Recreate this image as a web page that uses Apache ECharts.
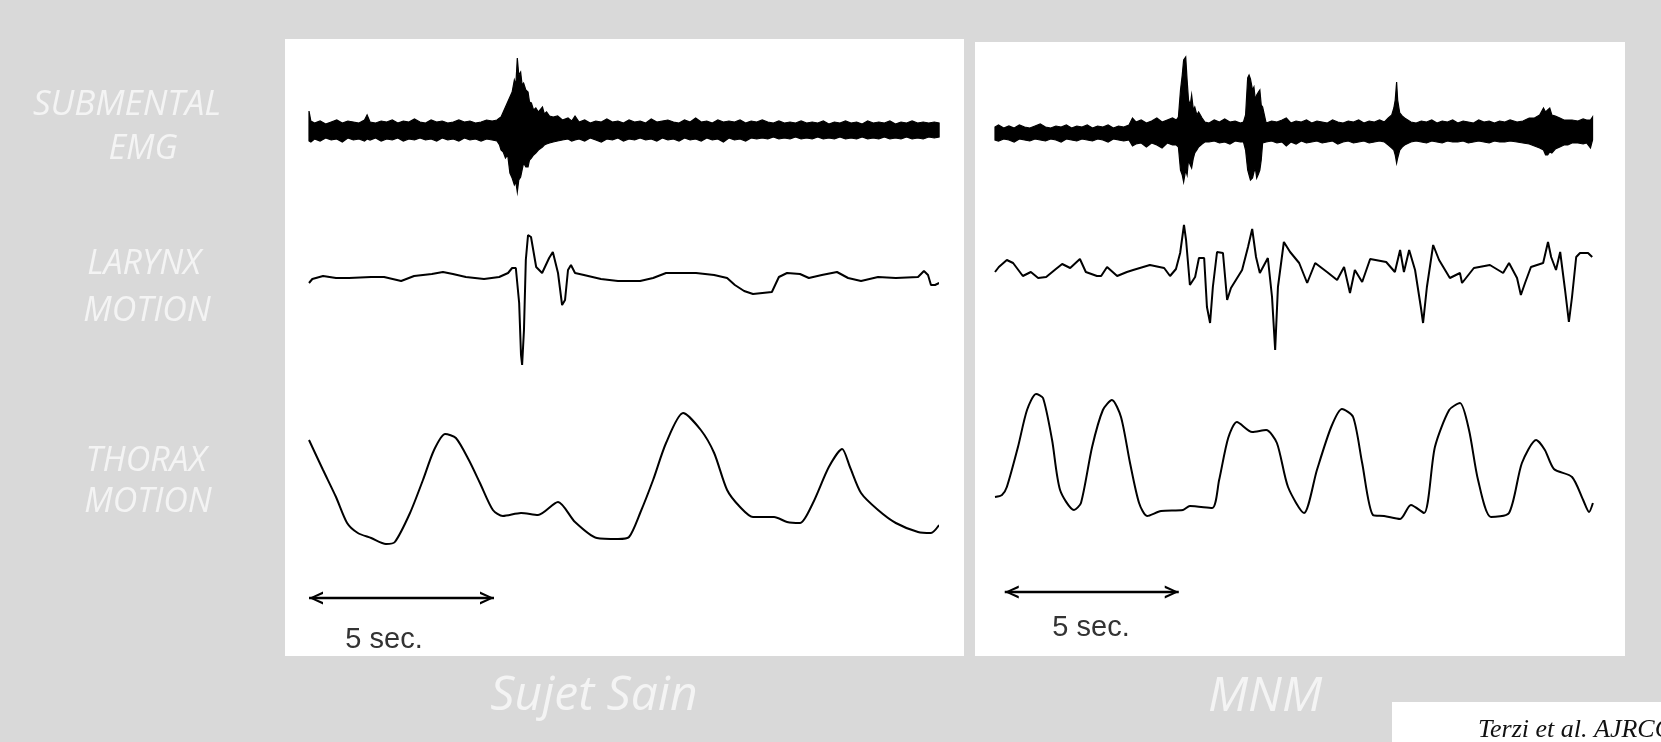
<!DOCTYPE html>
<html>
<head>
<meta charset="utf-8">
<script src="https://cdn.jsdelivr.net/npm/echarts@6/dist/echarts.min.js"></script>
<style>
  html, body { margin: 0; padding: 0; background: #d9d9d9; }
  #chart { width: 1661px; height: 742px; }
</style>
</head>
<body>
<div id="chart"></div>
<script>
// Polygraphic recordings: time in seconds, amplitude in arbitrary units (positive = up).

// Submental EMG, healthy subject: [time, upper envelope, lower envelope]
const emgSain = [
  [0.00,19,-11],[0.05,9,-12],[0.15,7,-9],[0.30,9,-11],[0.45,6,-8],[0.60,8,-10],[0.75,10,-9],[0.90,7,-12],
  [1.05,9,-8],[1.20,8,-10],[1.35,7,-9],[1.50,10,-11],[1.57,15,-9],[1.65,8,-10],[1.80,7,-8],[1.95,9,-11],
  [2.10,8,-9],[2.25,10,-10],[2.40,7,-8],[2.55,9,-11],[2.70,8,-9],[2.85,11,-10],[3.00,8,-8],[3.15,7,-10],
  [3.30,10,-9],[3.45,8,-11],[3.60,9,-8],[3.75,7,-10],[3.90,8,-9],[4.05,10,-11],[4.20,8,-8],[4.35,9,-10],
  [4.50,7,-9],[4.65,8,-11],[4.80,10,-9],[4.95,9,-10],
  [5.08,10,-11],[5.15,12,-15],[5.19,13,-20],[5.25,18,-22],[5.31,23,-28],[5.37,28,-25],[5.43,33,-43],
  [5.49,38,-48],[5.55,50,-55],[5.59,45,-52],[5.63,72,-62],[5.67,55,-50],[5.72,58,-47],[5.76,45,-40],
  [5.80,47,-33],[5.86,40,-37],[5.92,38,-37],[5.96,28,-30],[6.01,27,-28],[6.07,20,-25],[6.13,22,-23],
  [6.20,18,-20],[6.31,23,-17],[6.36,16,-15],[6.42,18,-14],[6.50,14,-13],[6.60,13,-12],[6.72,14,-11],
  [6.85,10,-10],[7.00,12,-9],[7.10,9,-11],[7.19,14,-10],
  [7.30,8,-9],[7.45,10,-11],[7.60,7,-8],[7.75,9,-10],[7.90,8,-12],[8.05,11,-9],[8.20,8,-10],[8.35,9,-8],
  [8.50,7,-11],[8.65,10,-9],[8.80,8,-10],[8.95,9,-8],[9.10,7,-10],[9.25,11,-9],[9.40,8,-11],[9.55,9,-8],
  [9.70,10,-10],[9.85,8,-9],[10.00,7,-11],[10.15,10,-8],[10.30,8,-10],[10.45,12,-9],[10.60,8,-11],
  [10.75,9,-8],[10.90,7,-10],[11.05,10,-9],[11.20,8,-12],[11.35,9,-8],[11.50,8,-10],[11.65,10,-9],
  [11.80,7,-11],[11.95,9,-8],[12.10,8,-9],[12.25,10,-8],[12.40,8,-9],[12.55,7,-7],[12.70,9,-9],
  [12.85,7,-8],[13.00,8,-9],[13.15,7,-7],[13.30,9,-9],[13.45,7,-8],[13.60,8,-9],[13.75,7,-7],
  [13.90,9,-9],[14.05,6,-8],[14.20,8,-9],[14.35,7,-7],[14.50,9,-9],[14.65,7,-8],[14.80,8,-9],
  [14.95,6,-7],[15.10,9,-9],[15.25,7,-8],[15.40,8,-9],[15.55,7,-7],[15.70,9,-9],[15.85,6,-8],
  [16.00,8,-9],[16.15,7,-7],[16.30,9,-9],[16.45,7,-8],[16.60,8,-9],[16.75,7,-7],[16.90,8,-8],[17.03,7,-7]
];

// Larynx motion, healthy subject: [time, amplitude]
const larynxSain = [
  [0.00,-3],[0.09,1],[0.38,4],[0.73,2],[1.08,2],[1.68,3],[2.03,3],[2.49,-1],[2.84,4],[3.32,6],[3.62,8],
  [3.89,6],[4.24,3],[4.73,1],[5.14,3],[5.38,7],[5.49,12],[5.59,12],[5.68,-23],[5.73,-75],[5.76,-85],
  [5.81,-50],[5.86,20],[5.92,45],[6.00,43],[6.14,13],[6.30,7],[6.49,22],[6.59,28],[6.73,7],[6.84,-25],
  [6.92,-20],[7.00,10],[7.08,15],[7.19,7],[7.43,5],[7.89,1],[8.35,-1],[8.95,-1],[9.30,2],[9.65,7],
  [10.46,7],[10.95,5],[11.30,2],[11.51,-5],[11.76,-11],[12.00,-14],[12.51,-12],[12.70,3],[12.92,7],
  [13.27,6],[13.51,2],[13.86,5],[14.27,8],[14.57,2],[14.92,-1],[15.38,3],[15.86,2],[16.46,3],[16.62,9],
  [16.73,5],[16.81,-5],[16.92,-5],[17.03,-3]
];

// Thorax motion, healthy subject: [time, amplitude]
const thoraxSain = [
  [0.00,120],[0.38,90],[0.73,63],[1.03,37],[1.32,27],[1.68,22],[2.08,16],[2.32,18],[2.73,47],[3.08,80],
  [3.38,110],[3.68,126],[3.97,122],[4.32,100],[4.62,77],[4.97,50],[5.24,44],[5.73,47],[6.19,45],[6.73,58],
  [7.19,38],[7.78,22],[8.35,21],[8.65,23],[8.95,47],[9.30,80],[9.65,117],[10.11,147],[10.59,130],
  [10.95,107],[11.30,70],[11.65,53],[12.00,43],[12.57,43],[12.92,38],[13.27,37],[13.62,57],[14.05,93],
  [14.41,111],[14.62,93],[14.92,67],[15.38,50],[15.86,37],[16.46,28],[16.81,27],[17.03,35]
];

// Submental EMG, neuromuscular patient (MNM): [time, upper envelope, lower envelope]
const emgMnm = [
  [0.00,3,-10],[0.10,5,-11],[0.25,2,-9],[0.40,4,-10],[0.55,2,-12],[0.70,5,-9],[0.85,3,-10],[1.00,2,-11],
  [1.15,4,-9],[1.30,6,-10],[1.45,3,-11],[1.60,2,-9],[1.75,4,-10],[1.90,3,-12],[2.05,5,-9],[2.20,2,-10],
  [2.35,4,-11],[2.50,3,-9],[2.65,5,-10],[2.80,2,-11],[2.95,4,-9],[3.10,3,-10],[3.25,5,-12],[3.40,2,-9],
  [3.55,4,-10],[3.70,3,-11],[3.85,5,-10],
  [3.95,12,-16],[4.05,8,-14],[4.20,10,-13],[4.35,7,-17],[4.50,9,-13],[4.65,12,-15],[4.80,8,-18],
  [4.95,10,-13],[5.10,12,-15],[5.21,10,-15],
  [5.27,13,-17],[5.33,40,-40],[5.38,55,-45],[5.42,70,-52],[5.48,73,-40],[5.52,50,-45],[5.56,30,-30],
  [5.61,25,-35],[5.65,35,-38],[5.70,20,-28],[5.74,23,-23],[5.80,15,-20],[5.85,18,-17],[5.95,12,-14],
  [6.03,8,-12],
  [6.15,7,-12],[6.30,10,-11],[6.45,8,-13],[6.60,11,-12],[6.75,8,-14],[6.90,9,-11],[7.05,7,-12],[7.14,8,-12],
  [7.20,15,-20],[7.26,52,-40],[7.30,55,-45],[7.34,51,-50],[7.40,40,-48],[7.44,43,-42],[7.48,30,-38],
  [7.52,35,-48],[7.57,38,-44],[7.61,40,-40],[7.65,25,-30],[7.69,23,-13],[7.79,7,-12],
  [7.95,9,-11],[8.10,8,-13],[8.25,10,-12],[8.37,12,-16],[8.50,7,-12],[8.65,9,-14],[8.80,8,-11],
  [8.95,10,-13],[9.10,7,-12],[9.25,9,-11],[9.40,8,-13],[9.55,7,-12],[9.70,10,-11],[9.85,8,-14],
  [10.00,7,-12],[10.15,9,-11],[10.30,8,-13],[10.45,10,-12],[10.60,7,-11],[10.75,9,-13],[10.90,8,-12],
  [11.05,10,-11],[11.19,8,-12],
  [11.30,12,-15],[11.40,15,-18],[11.46,22,-20],[11.50,30,-25],[11.54,48,-33],[11.57,30,-28],
  [11.63,17,-20],[11.70,14,-17],[11.77,12,-15],[11.95,8,-12],
  [12.10,7,-11],[12.25,9,-12],[12.40,8,-13],[12.55,10,-11],[12.70,7,-12],[12.85,9,-13],[13.00,8,-11],
  [13.15,10,-12],[13.30,7,-12],[13.45,9,-11],[13.60,8,-13],[13.75,7,-12],[13.90,10,-11],[14.05,8,-12],
  [14.20,9,-13],[14.35,7,-11],[14.50,9,-12],[14.65,8,-12],[14.80,10,-11],[15.00,8,-12],
  [15.17,9,-13],[15.35,12,-14],[15.50,12,-16],[15.65,15,-18],[15.76,22,-20],[15.82,18,-25],
  [15.88,20,-25],[15.94,22,-22],[16.00,15,-23],[16.10,14,-19],[16.23,12,-17],[16.35,10,-15],
  [16.46,10,-15],[16.58,10,-13],[16.75,9,-13],[16.90,11,-14],[17.00,10,-13],[17.11,10,-18],[17.17,13,-10]
];

// Larynx motion, MNM: [time, amplitude]
const larynxMnm = [
  [0.00,8],[0.11,13],[0.34,20],[0.52,17],[0.80,4],[1.03,8],[1.24,2],[1.47,3],[1.75,11],[1.93,16],[2.16,12],
  [2.44,21],[2.61,8],[2.93,4],[3.05,4],[3.22,13],[3.51,4],[3.79,8],[3.97,10],[4.45,15],[4.86,12],[5.03,4],
  [5.20,11],[5.32,27],[5.43,55],[5.49,40],[5.60,-5],[5.75,3],[5.86,22],[6.01,22],[6.09,-27],[6.18,-43],
  [6.26,-7],[6.38,28],[6.55,27],[6.67,-20],[6.78,-8],[7.10,10],[7.27,33],[7.39,51],[7.50,23],[7.61,7],
  [7.84,22],[7.96,-17],[8.05,-70],[8.13,-7],[8.30,38],[8.48,28],[8.74,17],[8.97,-3],[9.20,17],[9.54,8],
  [9.83,0],[10.03,13],[10.20,-13],[10.34,10],[10.55,-2],[10.78,21],[11.24,18],[11.49,8],[11.64,30],
  [11.75,8],[11.90,30],[12.07,10],[12.24,-28],[12.30,-43],[12.41,-7],[12.59,35],[12.76,20],[13.07,2],
  [13.36,7],[13.42,-3],[13.76,12],[14.22,15],[14.60,7],[14.77,17],[15.00,2],[15.11,-15],[15.23,-3],
  [15.40,13],[15.75,17],[15.89,38],[15.98,23],[16.12,10],[16.24,28],[16.38,-10],[16.49,-42],[16.58,-17],
  [16.70,23],[16.81,27],[17.04,27],[17.16,23]
];

// Thorax motion, MNM: [time, amplitude]
const thoraxMnm = [
  [0.00,63],[0.20,65],[0.34,73],[0.66,113],[0.92,150],[1.18,166],[1.38,162],[1.64,120],[1.87,70],
  [2.27,50],[2.47,57],[2.79,113],[3.10,150],[3.36,160],[3.62,143],[3.88,97],[4.14,57],[4.37,44],
  [4.77,49],[5.40,50],[5.60,54],[6.24,52],[6.44,80],[6.70,122],[6.95,138],[7.39,128],[7.79,130],
  [8.10,117],[8.42,73],[8.88,47],[9.25,90],[9.66,133],[9.97,151],[10.29,143],[10.55,97],[10.86,45],
  [11.18,44],[11.64,41],[11.95,55],[12.33,47],[12.64,113],[13.05,150],[13.36,157],[13.62,130],
  [13.88,80],[14.25,43],[14.77,47],[15.14,97],[15.55,120],[15.80,110],[16.06,91],[16.58,83],
  [16.90,60],[17.07,48],[17.18,57]
];

const scaleBarSeconds = 5;
const scaleBarStart = [0, 0.28];          // start time of the scale bar in each panel
const rowLabels = [['SUBMENTAL', 'EMG'], ['LARYNX', 'MOTION'], ['THORAX', 'MOTION']];
const panelTitles = ['Sujet Sain', 'MNM'];
const scaleLabel = '5 sec.';
const citation = 'Terzi et al. AJRCCM';

// ---- layout ----
const panels = [
  { left: 309, width: 629, tMax: 17.0 },      // 37 px per second
  { left: 995, width: 598.6, tMax: 17.2 }     // 34.8 px per second
];
const rows = [
  { top: 40, height: 170, min: -80, max: 90 },   // EMG
  { top: 220, height: 160, min: -100, max: 60 }, // larynx
  { top: 380, height: 230, min: -50, max: 180 }  // thorax (+ scale bar)
];
const scaleBarLevel = [-38, -32];

const grids = [], xAxes = [], yAxes = [];
panels.forEach(p => rows.forEach(r => {
  grids.push({ left: p.left, width: p.width, top: r.top, height: r.height, containLabel: false });
  xAxes.push({ type: 'value', gridIndex: grids.length - 1, min: 0, max: p.tMax, show: false });
  yAxes.push({ type: 'value', gridIndex: grids.length - 1, min: r.min, max: r.max, show: false });
}));

function emgBand(samples, idx) {
  return {
    type: 'custom', coordinateSystem: 'cartesian2d', xAxisIndex: idx, yAxisIndex: idx,
    data: [[samples[0][0], samples[0][1]]], silent: true, z: 3, clip: false,
    renderItem: (params, api) => {
      const upper = samples.map(s => api.coord([s[0], s[1]]));
      const lower = samples.slice().reverse().map(s => api.coord([s[0], s[2]]));
      return {
        type: 'polygon',
        shape: { points: upper.concat(lower) },
        style: { fill: '#000', stroke: '#000', lineWidth: 1.2 }
      };
    }
  };
}

function trace(data, idx, smooth) {
  return {
    type: 'line', xAxisIndex: idx, yAxisIndex: idx, data: data, showSymbol: false,
    smooth: smooth, silent: true, z: 3,
    lineStyle: { color: '#000', width: 2 }
  };
}

// open arrow head; the empty sub-path keeps the tip at the symbol centre
const chevron = 'path://M6,-14 Z M0,14 L6,0 L12,14 L9.8,14 L6,4.5 L2.2,14 Z';

function scaleBar(panel, idx) {
  const t0 = scaleBarStart[panel];
  return {
    type: 'line', xAxisIndex: idx, yAxisIndex: idx, data: [], silent: true,
    markLine: {
      silent: true, animation: false,
      symbol: [chevron, chevron], symbolSize: [13, 28],
      lineStyle: { color: '#000', width: 2.4, type: 'solid' },
      label: { show: false },
      data: [[
        { coord: [t0, scaleBarLevel[panel]] },
        { coord: [t0 + scaleBarSeconds, scaleBarLevel[panel]] }
      ]]
    }
  };
}

const series = [
  emgBand(emgSain, 0), trace(larynxSain, 1, false), trace(thoraxSain, 2, 0.25), scaleBar(0, 2),
  emgBand(emgMnm, 3), trace(larynxMnm, 4, false), trace(thoraxMnm, 5, 0.25), scaleBar(1, 5)
];

const labelColor = '#f4f4f4';
const labelPos = [[[127, 105], [143, 149]], [[144, 264], [147, 311]], [[146, 461], [148, 502]]];

const graphic = [
  { type: 'rect', shape: { x: 285, y: 39, width: 679, height: 617 }, style: { fill: '#fff' }, z: 0, silent: true },
  { type: 'rect', shape: { x: 975, y: 42, width: 650, height: 614 }, style: { fill: '#fff' }, z: 0, silent: true },
  { type: 'rect', shape: { x: 1392, y: 702, width: 269, height: 40 }, style: { fill: '#fff' }, z: 0, silent: true }
];
rowLabels.forEach((lines, i) => lines.forEach((txt, j) => {
  graphic.push({
    type: 'text', x: labelPos[i][j][0], y: labelPos[i][j][1], z: 5, silent: true,
    style: {
      text: txt, font: (i === 0 && j === 0 ? 'italic 35px' : 'italic 34px') + ' "Open Sans"',
      fill: labelColor, align: 'center', verticalAlign: 'middle'
    }
  });
}));
[[594, 696], [1265, 697]].forEach((pos, i) => {
  graphic.push({
    type: 'text', x: pos[0], y: pos[1], z: 5, silent: true,
    style: { text: panelTitles[i], font: 'italic 48px "Open Sans"', fill: labelColor, align: 'center', verticalAlign: 'middle' }
  });
});
[[384, 640], [1091, 628]].forEach(pos => {
  graphic.push({
    type: 'text', x: pos[0], y: pos[1], z: 5, silent: true,
    style: { text: scaleLabel, font: '29px "Liberation Sans"', fill: '#333', align: 'center', verticalAlign: 'middle' }
  });
});
graphic.push({
  type: 'text', x: 1478, y: 730, z: 5, silent: true,
  style: { text: citation, font: 'italic 26px "Liberation Serif"', fill: '#111', align: 'left', verticalAlign: 'middle' }
});

const chart = echarts.init(document.getElementById('chart'), null, { renderer: 'canvas' });
chart.setOption({
  backgroundColor: '#d9d9d9',
  animation: false,
  grid: grids, xAxis: xAxes, yAxis: yAxes,
  graphic: graphic,
  series: series
});
</script>
</body>
</html>
